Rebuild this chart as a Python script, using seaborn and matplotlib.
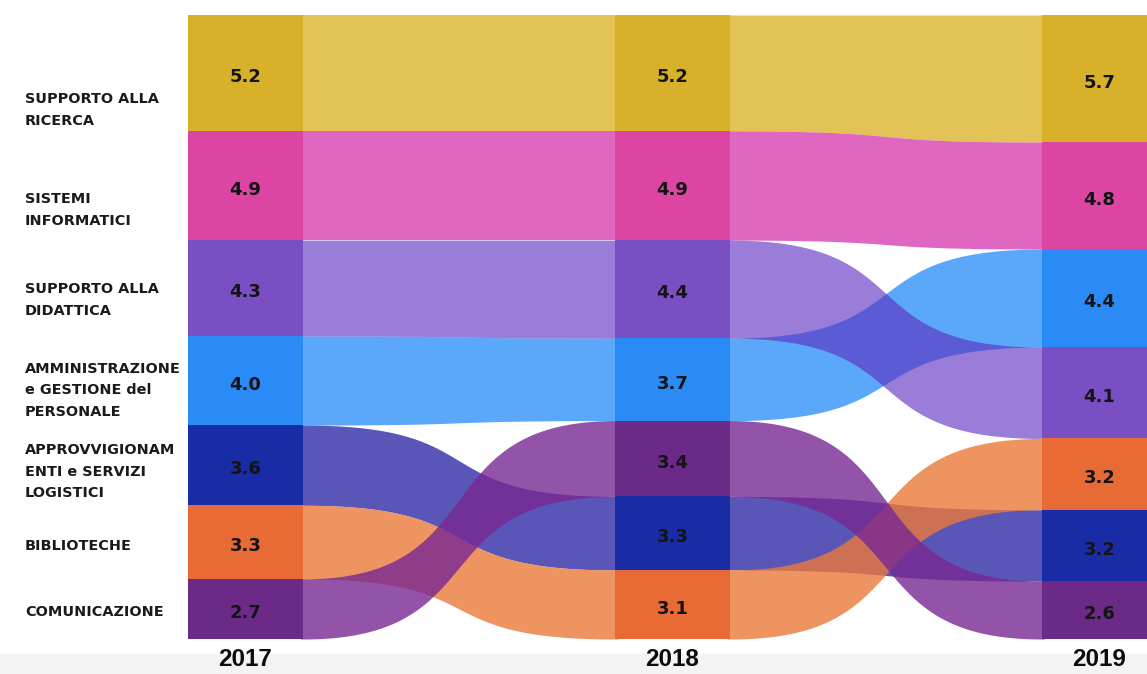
import numpy as np
import pandas as pd
import seaborn as sns
import matplotlib.pyplot as plt
from matplotlib.colors import to_rgb
from matplotlib.patches import Rectangle
from matplotlib.transforms import blended_transform_factory

# ---- data -------------------------------------------------------------
years = ["2017", "2018", "2019"]
categories = [
    "SUPPORTO ALLA\nRICERCA",
    "SISTEMI\nINFORMATICI",
    "SUPPORTO ALLA\nDIDATTICA",
    "AMMINISTRAZIONE\ne GESTIONE del\nPERSONALE",
    "APPROVVIGIONAM\nENTI e SERVIZI\nLOGISTICI",
    "BIBLIOTECHE",
    "COMUNICAZIONE",
]
values_2017 = [5.2, 4.9, 4.3, 4.0, 3.6, 3.3, 2.7]
values_2018 = [5.2, 4.9, 4.4, 3.7, 3.3, 3.1, 3.4]
values_2019 = [5.7, 4.8, 4.1, 4.4, 3.2, 3.2, 2.6]

# top-to-bottom stacking order (category indices) for each year
order_2017 = [0, 1, 2, 3, 4, 5, 6]
order_2018 = [0, 1, 2, 3, 6, 4, 5]
order_2019 = [0, 1, 3, 2, 5, 4, 6]

# ---- style ------------------------------------------------------------
block_colors = ["#D8B12B", "#DD45A3", "#7A4FC4", "#2A8BF7",
                "#1A2BA6", "#E86B36", "#6B2A88"]
flow_colors = ["#E3C455", "#E067C2", "#9A7DD8", "#5BA7FA",
               "#5A56B8", "#EE9461", "#9253A8"]
flow_alphas = [0.8, 0.8, 0.62, 0.8, 0.8, 0.8, 0.8]
flow_draw_order = [0, 1, 3, 2, 4, 5, 6]
label_y = [4.26, 8.75, 12.79, 16.83, 20.5, 23.83, 26.8]

sns.set_theme(style="white")
plt.rcParams["font.family"] = ["DejaVu Sans"]

values = [values_2017, values_2018, values_2019]
orders = [order_2017, order_2018, order_2019]

rows = []
for yi, (vals, order) in enumerate(zip(values, orders)):
    top = 0.0
    for ci in order:
        rows.append(dict(year=years[yi], col=yi, idx=ci,
                         value=vals[ci], top=top, bottom=top + vals[ci]))
        top += vals[ci]
df = pd.DataFrame(rows)
total = df.groupby("col")["value"].sum().max()

W, H = 1147, 674
fig = plt.figure(figsize=(W / 100, H / 100), dpi=100)
fig.patches.append(Rectangle((0, 0), 1, 20 / H, transform=fig.transFigure,
                             color="#F3F3F3", zorder=-10))

ax = fig.add_axes([188 / W, 1 - 639 / H, (W - 188) / W, (639 - 15) / H])
ax.set_facecolor("none")
hw = 57.5 / 427
ax.set_xlim(-hw, (W - 245.5) / 427)
ax.set_ylim(total, 0)
ax.set_axis_off()


def flow_rgba(c, alpha):
    rgb = np.array(to_rgb(c))
    base = np.clip((rgb - (1 - alpha)) / alpha, 0, 1)
    return (*base, alpha)


# ribbons between consecutive years (cubic S-curves, flat at both ends)
k = 0.62
tuck = 0.006  # ribbons slip slightly under the blocks to hide seams
t = np.linspace(0, 1, 400)
sx = 3 * (1 - t) ** 2 * t * k + 3 * (1 - t) * t ** 2 * (1 - k) + t ** 3
sy = 3 * t ** 2 - 2 * t ** 3
for ci in flow_draw_order:
    d = df[df["idx"] == ci].sort_values("col").to_dict("records")
    for a, b in zip(d[:-1], d[1:]):
        x0, x1 = a["col"] + hw, b["col"] - hw
        xs = np.r_[x0 - tuck, x0 + (x1 - x0) * sx, x1 + tuck]
        top = a["top"] + (b["top"] - a["top"]) * sy
        bot = a["bottom"] + (b["bottom"] - a["bottom"]) * sy
        top = np.r_[a["top"], top, b["top"]]
        bot = np.r_[a["bottom"], bot, b["bottom"]]
        ax.fill_between(xs, top, bot,
                        color=flow_rgba(flow_colors[ci], flow_alphas[ci]),
                        linewidth=0, zorder=1)

# stacked blocks and their values
for r in df.to_dict("records"):
    ax.bar(r["col"], r["value"], bottom=r["top"], width=2 * hw,
           color=block_colors[r["idx"]], linewidth=0, zorder=2)
    ax.annotate(f"{r['value']:.1f}", (r["col"], (r["top"] + r["bottom"]) / 2),
                xytext=(0, -3), textcoords="offset points",
                ha="center", va="center", fontsize=13, fontweight="bold",
                color="#141414", zorder=3)

# category names on the left
tr = blended_transform_factory(fig.transFigure, ax.transData)
for ci, name in enumerate(categories):
    ax.text(25 / W, label_y[ci], name, transform=tr, ha="left", va="center",
            fontsize=10.4, fontweight="bold", color="#1A1A1A",
            linespacing=1.68, clip_on=False)

# year labels
ty = blended_transform_factory(ax.transData, fig.transFigure)
for yi, y in enumerate(years):
    ax.text(yi, 1 - 659 / H, y, transform=ty, ha="center", va="center",
            fontsize=17.5, fontweight="bold", color="#0D0D0D",
            family=["Liberation Sans", "DejaVu Sans"], clip_on=False,
            zorder=5)

fig.savefig("out.png", dpi=100)
